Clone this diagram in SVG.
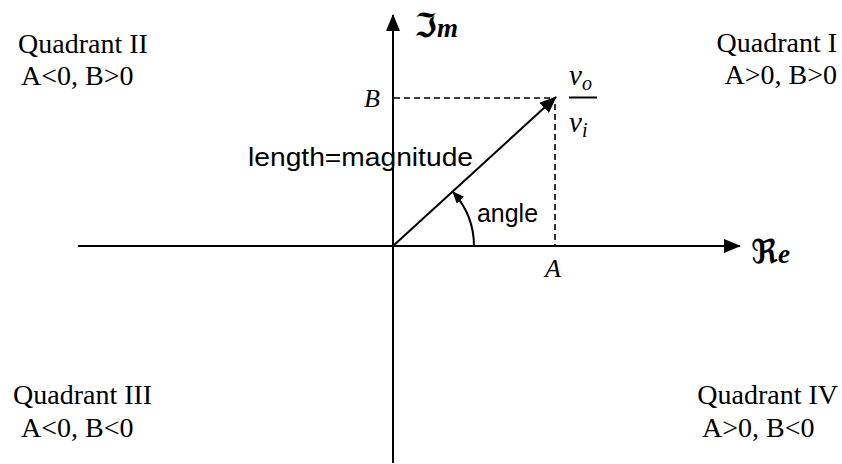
<svg xmlns="http://www.w3.org/2000/svg" width="842" height="464" viewBox="0 0 842 464">
<style>
.q{font-family:"Liberation Serif","Times New Roman",serif;font-size:28px;fill:#000}
.s{font-family:"Liberation Sans",Arial,sans-serif;font-size:25px;fill:#000}
.m{font-family:"Liberation Serif","Times New Roman",serif;font-style:italic;fill:#000}
.ax{stroke:#000;stroke-width:2;fill:none}
.da{stroke:#000;stroke-width:1.6;stroke-dasharray:6,4;fill:none}
.lbl{font-family:"DejaVu Serif","DejaVu Sans",serif;fill:#000}
</style>
<defs>
<marker id="big" viewBox="0 0 17 14" refX="16" refY="7" markerWidth="17" markerHeight="14" orient="auto" markerUnits="userSpaceOnUse">
<path d="M0,0 L17,7 L0,14 Z" fill="#000"/>
</marker>
<marker id="sm" viewBox="0 0 12 10" refX="11" refY="5" markerWidth="12" markerHeight="10" orient="auto" markerUnits="userSpaceOnUse">
<path d="M0,0 L12,5 L0,10 Z" fill="#000"/>
</marker>
</defs>
<g id="connectors">
<line class="ax" x1="78" y1="246" x2="740" y2="246" marker-end="url(#big)"/>
<line class="ax" x1="393" y1="463" x2="393" y2="15" marker-end="url(#big)"/>
<line class="ax" x1="393" y1="246" x2="556" y2="97" stroke-width="2.5" marker-end="url(#big)"/>
<line class="da" x1="394" y1="98" x2="554" y2="98"/>
<line class="da" x1="555" y1="104" x2="555" y2="246"/>
<path class="ax" d="M474,246 A81,81 0 0 0 453,192" stroke-width="1.8" marker-end="url(#sm)"/>
</g>
<g id="im-label">
<text class="lbl" x="414" y="37" font-size="33" font-weight="bold">ℑ<tspan class="m" font-weight="bold" font-size="27">m</tspan></text>
</g>
<g id="re-label">
<text class="lbl" x="751" y="263" font-size="33" font-weight="bold">ℜ<tspan class="m" font-weight="bold" font-size="27">e</tspan></text>
</g>
<g id="b-label"><text class="m" x="364" y="107" font-size="26">B</text></g>
<g id="a-label"><text class="m" x="545" y="277" font-size="26">A</text></g>
<g id="ratio">
<text class="m" x="569" y="85" font-size="29">v<tspan font-size="20" dy="5">o</tspan></text>
<line x1="569" y1="97.5" x2="597" y2="97.5" stroke="#000" stroke-width="2"/>
<text class="m" x="569" y="132" font-size="29">v<tspan font-size="20" dy="5">i</tspan></text>
</g>
<g id="length-label"><text class="s" x="248" y="166" textLength="225" lengthAdjust="spacingAndGlyphs">length=magnitude</text></g>
<g id="angle-label"><text class="s" x="477" y="222" textLength="61" lengthAdjust="spacingAndGlyphs">angle</text></g>
<g id="q2">
<text class="q" x="18" y="53">Quadrant II</text>
<text class="q" x="21" y="85">A&lt;0, B&gt;0</text>
</g>
<g id="q1">
<text class="q" x="837" y="52" text-anchor="end">Quadrant I</text>
<text class="q" x="837" y="84" text-anchor="end">A&gt;0, B&gt;0</text>
</g>
<g id="q3">
<text class="q" x="13" y="404">Quadrant III</text>
<text class="q" x="21" y="437">A&lt;0, B&lt;0</text>
</g>
<g id="q4">
<text class="q" x="838" y="404" text-anchor="end">Quadrant IV</text>
<text class="q" x="702" y="437">A&gt;0, B&lt;0</text>
</g>
</svg>
